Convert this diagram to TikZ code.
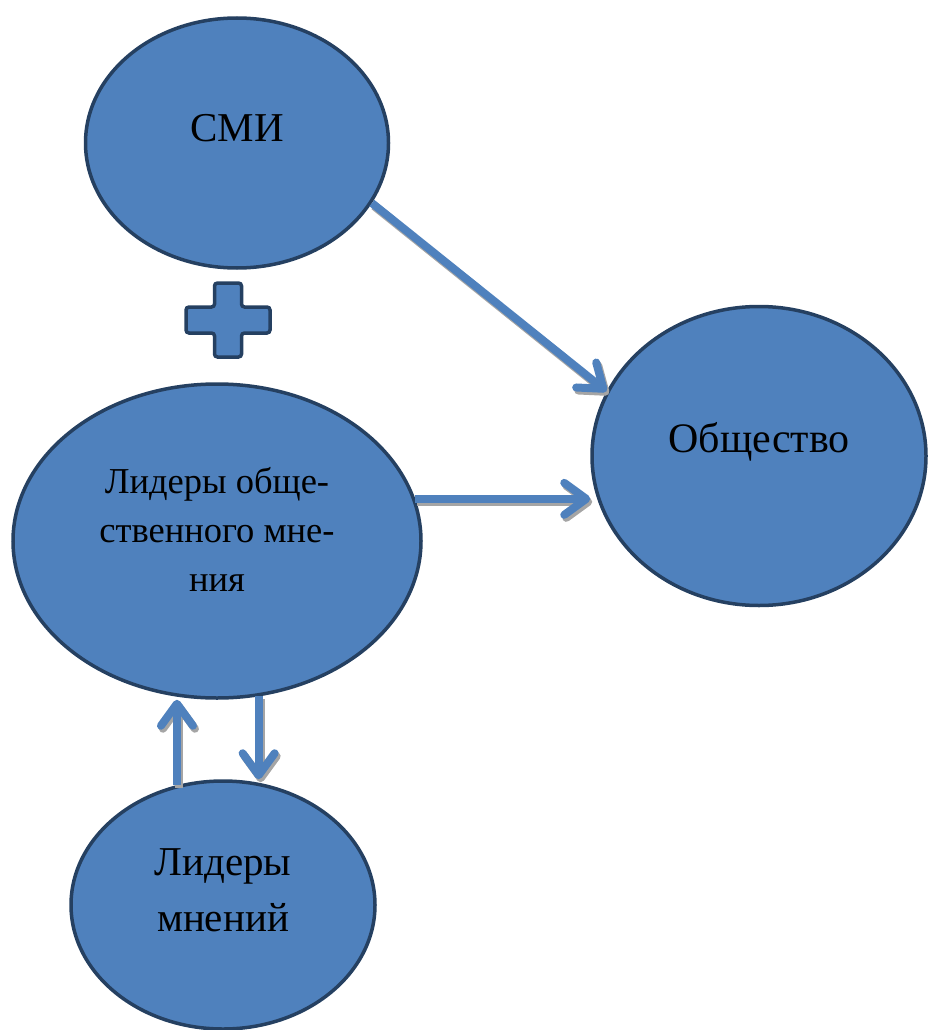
\documentclass[tikz,border=0pt]{standalone}
\usepackage{fontspec}
\setmainfont{Liberation Serif}
\usetikzlibrary{arrows.meta,shapes.geometric}
\definecolor{bubblefill}{RGB}{79,129,189}
\definecolor{bubbleline}{RGB}{37,64,97}
\definecolor{shadowgray}{RGB}{165,165,165}

\begin{document}
\begin{tikzpicture}[x=1pt,y=-1pt]
\tikzset{
  chevron/.tip    = {Straight Barb[length=22pt,width=32pt,round]},
  bubble/.style   = {ellipse, draw=bubbleline, fill=bubblefill,
                     line width=3.5pt, inner sep=0pt},
  caption/.style  = {align=center, font=\fontsize{41}{56}\selectfont},
  link/.style     = {draw=bubblefill, line width=8pt, -chevron,
                     preaction={draw=shadowgray, line width=8pt, -chevron,
                                transform canvas={shift={(2pt,-3pt)}}}},
  crossmark/.style = {draw=bubbleline, fill=bubblefill, line width=3.5pt,
                     rounded corners=3pt}
}
\useasboundingbox (0,0) rectangle (928,1030);
  % ellipses
  \node[bubble, minimum width=303pt, minimum height=250pt] (smi) at (237,143) {};
  \node[bubble, minimum width=334pt, minimum height=299pt] (soc) at (759,456) {};
  \node[bubble, minimum width=408pt, minimum height=314pt] (lead) at (217,541) {};
  \node[bubble, minimum width=304pt, minimum height=248pt] (mn) at (223,905) {};
  % texts
  \node[caption] (smi-t)  at ([yshift=15pt]smi.center)  {СМИ};
  \node[caption, font=\fontsize{42}{56}\selectfont]
                 (soc-t)  at ([yshift=14pt]soc.center)  {Общество};
  \node[caption, font=\fontsize{36.5}{49}\selectfont]
                 (lead-t) at ([yshift=12pt]lead.center) {Лидеры обще-\\ственного мне-\\ния};
  \node[caption] (mn-t)   at ([yshift=15pt]mn.center)   {Лидеры\\мнений};
  % plus
  \coordinate (plus) at (228,320);
  \draw[crossmark] (plus) ++(-13.5,-37) -- ++(27,0) -- ++(0,24) -- ++(28.5,0)
    -- ++(0,26) -- ++(-28.5,0) -- ++(0,24) -- ++(-27,0) -- ++(0,-24)
    -- ++(-28.5,0) -- ++(0,-26) -- ++(28.5,0) -- cycle;
  % arrows
  \draw[link] (smi.-24)  -- (soc.157);
  \draw[link] (lead.12)  -- (lead.12 -| soc.west);
  \draw[link] (mn.111)   -- (mn.111 |- lead.south);
  \draw[link] (lead.-75) -- (lead.-75 |- mn.north);
\end{tikzpicture}
\end{document}
